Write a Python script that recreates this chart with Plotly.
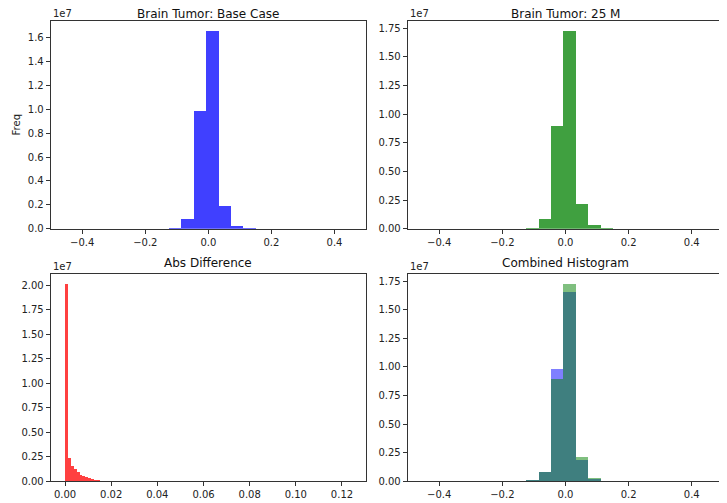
import plotly.graph_objects as go

# ---- data ----
bin_edges = [-0.165, -0.1257, -0.0864, -0.0471, -0.0078, 0.0315, 0.0708, 0.1101, 0.1494, 0.1887]
base_counts = [40000, 120000, 870000, 9860000, 16580000, 1930000, 280000, 80000, 40000]
m25_counts = [40000, 120000, 850000, 8970000, 17290000, 2160000, 320000, 80000, 40000]

diff_edges = [0.0, 0.00124, 0.00248, 0.00372, 0.00496, 0.0062, 0.00744, 0.00868,
              0.00992, 0.01116, 0.0124, 0.01364, 0.01488, 0.01612, 0.01736]
diff_counts = [20180000, 2420000, 1630000, 1300000, 950000, 710000, 540000, 440000,
               340000, 270000, 200000, 160000, 120000, 100000]

titles = ["Brain Tumor: Base Case", "Brain Tumor: 25 M", "Abs Difference", "Combined Histogram"]
x_ticks_main = [-0.4, -0.2, 0.0, 0.2, 0.4]
x_ticks_diff = [0.0, 0.02, 0.04, 0.06, 0.08, 0.10, 0.12]
y_ticks_tl = [0.0, 0.2, 0.4, 0.6, 0.8, 1.0, 1.2, 1.4, 1.6]
y_ticks_q = [0.0, 0.25, 0.5, 0.75, 1.0, 1.25, 1.5, 1.75]
y_ticks_bl = [0.0, 0.25, 0.5, 0.75, 1.0, 1.25, 1.5, 1.75, 2.0]


def centers(edges):
    return [(edges[i] + edges[i + 1]) / 2 for i in range(len(edges) - 1)]


def widths(edges):
    return [edges[i + 1] - edges[i] for i in range(len(edges) - 1)]


def fmt(v, d):
    s = f"{v:.{d}f}"
    return s.replace("-", "\u2212")


# page body has an 8px margin; figure sized to fill the rest of the window
OFF = 8
W, H = 727 - OFF, 503 - OFF
FONT = "DejaVu Sans"
fig = go.Figure()

blue75 = "rgba(0,0,255,0.75)"
green75 = "rgba(0,128,0,0.75)"
red75 = "rgba(255,0,0,0.75)"

fig.add_trace(go.Bar(x=centers(bin_edges), y=base_counts, width=widths(bin_edges),
                     marker=dict(color=blue75, line=dict(width=0)), xaxis="x", yaxis="y"))
fig.add_trace(go.Bar(x=centers(bin_edges), y=m25_counts, width=widths(bin_edges),
                     marker=dict(color=green75, line=dict(width=0)), xaxis="x2", yaxis="y2"))
fig.add_trace(go.Bar(x=centers(diff_edges), y=diff_counts, width=widths(diff_edges),
                     marker=dict(color=red75, line=dict(width=0)), xaxis="x3", yaxis="y3"))
fig.add_trace(go.Bar(x=centers(bin_edges), y=base_counts, width=widths(bin_edges),
                     marker=dict(color="rgba(0,0,255,0.5)", line=dict(width=0)), xaxis="x4", yaxis="y4"))
fig.add_trace(go.Bar(x=centers(bin_edges), y=m25_counts, width=widths(bin_edges),
                     marker=dict(color="rgba(0,128,0,0.5)", line=dict(width=0)), xaxis="x4", yaxis="y4"))


def px_x(p):
    return (p - OFF) / W


def px_y(p):
    return 1 - (p - OFF) / H


xl = [px_x(50.7), px_x(366)]
xr = [px_x(407.7), px_x(723.3)]
yt = [px_y(228.7), px_y(20.7)]
yb = [px_y(481.2), px_y(273.5)]

axis_common = dict(showline=True, linecolor="#333", linewidth=1, mirror=True,
                   ticks="outside", ticklen=4, tickcolor="#333", showgrid=False,
                   zeroline=False, automargin=False,
                   tickfont=dict(family=FONT, size=10, color="#222"))


def xax(domain, anchor, rng, vals, d):
    return dict(axis_common, domain=domain, anchor=anchor, range=rng,
                tickvals=vals, ticktext=[fmt(v, d) for v in vals])


def yax(domain, anchor, rng, vals, d):
    return dict(axis_common, domain=domain, anchor=anchor, range=rng,
                tickvals=[v * 1e7 for v in vals], ticktext=[fmt(v, d) for v in vals])


fig.update_layout(
    width=W, height=H, margin=dict(l=0, r=0, t=0, b=0, autoexpand=False),
    paper_bgcolor="white", plot_bgcolor="white", showlegend=False,
    barmode="overlay", bargap=0,
    font=dict(family=FONT, size=10, color="#222"),
    xaxis=xax(xl, "y", [-0.5, 0.5], x_ticks_main, 1),
    yaxis=yax(yt, "x", [0, 1.742e7], y_ticks_tl, 1),
    xaxis2=xax(xr, "y2", [-0.5, 0.5], x_ticks_main, 1),
    yaxis2=yax(yt, "x2", [0, 1.817e7], y_ticks_q, 2),
    xaxis3=xax(xl, "y3", [-0.0062, 0.1304], x_ticks_diff, 2),
    yaxis3=yax(yb, "x3", [0, 2.119e7], y_ticks_bl, 2),
    xaxis4=xax(xr, "y4", [-0.5, 0.5], x_ticks_main, 1),
    yaxis4=yax(yb, "x4", [0, 1.817e7], y_ticks_q, 2),
)

ann = []
for i, (t, xd, yd) in enumerate([(titles[0], xl, yt), (titles[1], xr, yt),
                                 (titles[2], xl, yb), (titles[3], xr, yb)]):
    if i < 2:
        # top row: titles sit at the very top of the drawable page area
        ann.append(dict(text=t, x=(xd[0] + xd[1]) / 2, y=1.0, xref="paper", yref="paper",
                        xanchor="center", yanchor="top", yshift=3, showarrow=False,
                        font=dict(family=FONT, size=12, color="#111")))
    else:
        ann.append(dict(text=t, x=(xd[0] + xd[1]) / 2, y=yd[1], xref="paper", yref="paper",
                        xanchor="center", yanchor="bottom", yshift=2, showarrow=False,
                        font=dict(family=FONT, size=12, color="#111")))
    ann.append(dict(text="1e7", x=xd[0], y=yd[1], xref="paper", yref="paper",
                    xanchor="left", yanchor="bottom", yshift=0, showarrow=False,
                    font=dict(family=FONT, size=10, color="#222")))
ann.append(dict(text="Freq", x=px_x(16.7), y=(yt[0] + yt[1]) / 2, xref="paper", yref="paper",
                xanchor="center", yanchor="middle", textangle=-90, showarrow=False,
                font=dict(family=FONT, size=10, color="#222")))
fig.update_layout(annotations=ann)

fig.write_html("out.html")
